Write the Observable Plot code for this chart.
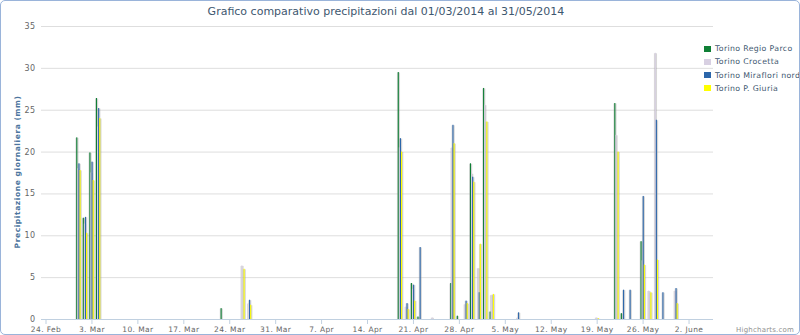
<!DOCTYPE html>
<html><head><meta charset="utf-8">
<script src="https://cdn.jsdelivr.net/npm/d3@7"></script>
<script src="https://cdn.jsdelivr.net/npm/@observablehq/plot@0.6"></script>
<style>
body{margin:0;background:#fff}
#wrap{position:relative;width:800px;height:335px;overflow:hidden;font-family:"DejaVu Sans",sans-serif}
#border{position:absolute;left:0;top:0;width:798px;height:333px;border:1px solid #9ab4da;border-radius:5px;pointer-events:none}
#title{position:absolute;left:0;width:772px;top:5px;text-align:center;font-size:11px;color:#3E576F;white-space:nowrap}
#ytitle{position:absolute;left:17px;top:172px;transform:translate(-50%,-50%) rotate(-90deg);font-size:7.5px;font-weight:bold;color:#4d759e;letter-spacing:0.6px;white-space:nowrap}
#legend{position:absolute;left:704px;top:43px;font-size:7.8px;color:#3E576F;letter-spacing:0.35px}
.li{height:13.3px;line-height:11px;white-space:nowrap}
.sw{display:inline-block;width:7px;height:6px;margin-right:4px;vertical-align:-0.5px}
#credit{position:absolute;right:6px;bottom:1px;font-size:7px;color:#909090;letter-spacing:0.2px}
</style></head><body><div id="wrap"></div><script>
const seriesNames = ["Torino Regio Parco", "Torino Crocetta", "Torino Miraflori nord", "Torino P. Giuria"];
const seriesColors = ["#0f7f35", "#d8d0e2", "#2c66aa", "#ffff00"];
const dates = ["2014-03-01","2014-03-02","2014-03-03","2014-03-04","2014-03-23","2014-03-26","2014-03-27",
  "2014-04-19","2014-04-20","2014-04-21","2014-04-22","2014-04-24","2014-04-27","2014-04-28","2014-04-29","2014-04-30",
  "2014-05-01","2014-05-02","2014-05-03","2014-05-07","2014-05-19","2014-05-22","2014-05-23","2014-05-24",
  "2014-05-26","2014-05-27","2014-05-28","2014-05-29","2014-05-31"];
const regioParco = [21.7,12.1,19.9,26.4,1.3,0,0, 29.5,0,4.3,0.3,0,4.3,0.4,0,18.6, 0,27.6,0.9,0,0,25.8,0.7,0, 9.3,0,0,0,0];
const crocetta   = [18.0,11.4,17.5,23.0,0,6.4,1.9, 20.5,1.5,3.6,0,0.2,20.5,0,1.8,17.4, 6.1,25.6,2.9,0.2,0.2,22.0,0,0, 7.0,3.4,31.8,0,3.4];
const mirafiori  = [18.6,12.2,18.8,25.2,0,0,2.3, 21.6,1.9,4.1,8.6,0,23.2,0,2.2,17.0, 3.2,0,0,0.8,0,0,3.5,3.5, 14.7,0,23.8,3.2,3.7];
const giuria     = [17.8,10.3,16.6,24.0,0,6.0,1.7, 20.0,1.2,2.2,0,0,21.0,0,1.9,16.4, 9.0,23.6,3.0,0,0.1,20.0,0,0, 6.5,3.2,7.1,0,1.9];
const xTicks = ["2014-02-24","2014-03-03","2014-03-10","2014-03-17","2014-03-24","2014-03-31","2014-04-07","2014-04-14",
  "2014-04-21","2014-04-28","2014-05-05","2014-05-12","2014-05-19","2014-05-26","2014-06-02"];
const xTickLabels = ["24. Feb","3. Mar","10. Mar","17. Mar","24. Mar","31. Mar","7. Apr","14. Apr",
  "21. Apr","28. Apr","5. May","12. May","19. May","26. May","2. June"];
const yTicks = [0,5,10,15,20,25,30,35];

const series = [regioParco, crocetta, mirafiori, giuria];
const H = 3600e3;
const slot = 4.0; // hours per column slot
const rows = [];
dates.forEach((d, j) => {
  const t = new Date(d + "T00:00:00Z");
  series.forEach((vals, i) => {
    const v = vals[j];
    if (v > 0) rows.push({
      x1: new Date(+t + (-2 * slot + i * slot) * H),
      x2: new Date(+t + (-2 * slot + (i + 1) * slot) * H),
      value: v, series: seriesNames[i]
    });
  });
});
const tickDates = xTicks.map(s => new Date(s + "T00:00:00Z"));
const labelOf = new Map(tickDates.map((d, k) => [+d, xTickLabels[k]]));

const chart = Plot.plot({
  width: 800, height: 335,
  marginLeft: 41, marginRight: 87, marginTop: 26, marginBottom: 16,
  style: {fontFamily: "'DejaVu Sans', sans-serif", background: "transparent"},
  x: {type: "utc", domain: [new Date("2014-02-23T07:30:00Z"), new Date("2014-06-05T17:30:00Z")]},
  y: {domain: [0, 35]},
  color: {domain: seriesNames, range: seriesColors},
  marks: [
    Plot.gridY(yTicks, {stroke: "#dedede", strokeOpacity: 1}),
    Plot.rectY(rows, {x1: "x1", x2: "x2", y: "value", fill: "#9a9a9a", fillOpacity: 0.4, insetLeft: -0.7, insetRight: -1.3, dy: 0.5}),
    Plot.rectY(rows, {x1: "x1", x2: "x2", y: "value", fill: "series", insetLeft: 0.1, insetRight: -0.1}),
    Plot.ruleY([0], {stroke: "#C0D0E0"}),
    Plot.axisY(yTicks, {tickSize: 0, tickPadding: 6, fontSize: 8, fill: "#666", label: null}),
    Plot.axisX(tickDates, {tickSize: 5, stroke: "#C0D0E0", tickPadding: 2, fontSize: 7.5, fill: "#666", label: null,
      tickFormat: d => labelOf.get(+d)})
  ]
});
const wrap = document.getElementById("wrap");
wrap.appendChild(chart);
chart.style.position = "absolute"; chart.style.left = "0"; chart.style.top = "0";
chart.querySelectorAll("text").forEach(t => t.style.letterSpacing = "0.4px");

const add = (id, html) => { const el = document.createElement("div"); el.id = id; el.innerHTML = html; wrap.appendChild(el); return el; };
add("title", "Grafico comparativo precipitazioni dal 01/03/2014 al 31/05/2014");
add("ytitle", "Precipitazione giornaliera (mm)");
add("legend", seriesNames.map((n, i) => `<div class="li"><span class="sw" style="background:${seriesColors[i]}"></span>${n}</div>`).join(""));
add("credit", "Highcharts.com");
add("border", "");
</script></body></html>
